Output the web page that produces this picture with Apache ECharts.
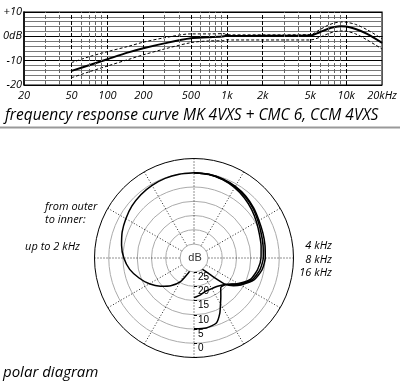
<!DOCTYPE html>
<html>
<head>
<meta charset="utf-8">
<script src="https://cdn.jsdelivr.net/npm/echarts@6/dist/echarts.min.js"></script>
<style>html,body{margin:0;padding:0;background:#fff}#c{width:400px;height:383px}</style>
</head>
<body>
<div id="c"></div>
<script>
// ---- frequency response data ----
const FREQ  = [50, 70, 100, 150, 200, 300, 500, 700, 950, 1000, 1100, 2000, 5000, 6000, 7000, 8000, 9000, 10000, 12000, 15000, 20000];
const MID   = [-14.2, -11.9, -9.4, -6.6, -4.9, -2.9, -0.8, -0.4, 0.0, 0.5, 0.1, 0.2, 0.3, 1.7, 3.0, 3.8, 4.1, 4.0, 3.0, 1.0, -2.7];
const UPPER = [-10.8, -8.4, -6.3, -4.1, -2.4, -0.6, 1.0, 1.0, 1.1, 0.6, 0.6, 0.6, 0.7, 2.7, 4.5, 5.5, 5.9, 5.8, 4.9, 2.7, -1.0];
const LOWER = [-17.0, -14.6, -12.2, -9.5, -7.6, -5.2, -2.6, -1.9, -1.8, -1.4, -1.5, -1.5, -1.5, -0.4, 1.0, 1.9, 2.2, 2.1, 1.0, -1.5, -5.2];
const X_LABEL_FREQ = [20, 50, 100, 200, 500, 1000, 2000, 5000, 10000, 20000];
const X_LABELS     = ['20', '50', '100', '200', '500', '1k', '2k', '5k', '10k', '20kHz'];
const MAJOR_GRID = [50, 100, 200, 500, 1000, 2000, 5000, 10000];
const MINOR_GRID = [30, 40, 60, 70, 80, 90, 300, 400, 600, 700, 800, 900, 3000, 4000, 6000, 7000, 8000, 9000];
const Y_TICKS = [10, 0, -10, -20];
const Y_LABELS = ['+10', '0dB', '-10', '-20'];

// ---- polar data (angle in degrees, 0 = front/top; level in dB) ----
const LOW_ANGLE = [0, -10, -20, -30, -40, -50, -60, -70, -80, -90, -100, -110, -120, -130, -140, -150, -160, -170, -180];
const LOW_DB    = [0, -0.05, -0.2, -0.5, -0.9, -1.5, -2.3, -3.1, -4.1, -5.3, -7.0, -9.4, -11.8, -14.5, -17.2, -20.2, -24.5, -26.8, -27.5];
const K4_ANGLE  = [0, 10, 20, 30, 40, 50, 60, 70, 80, 90, 100, 110, 120, 125, 130, 135, 140, 150, 165, 180];
const K4_DB     = [0, -0.1, -0.4, -0.9, -1.6, -2.6, -3.6, -4.2, -4.6, -4.9, -5.7, -7.5, -11.0, -13.0, -15.5, -21.0, -24.0, -26.0, -27.0, -27.5];
const K8_ANGLE  = [0, 10, 20, 30, 40, 50, 60, 70, 80, 90, 100, 110, 120, 130, 140, 150, 160, 170, 180];
const K8_DB     = [0, -0.1, -0.5, -1.1, -1.9, -2.9, -4.0, -4.8, -5.3, -5.6, -6.4, -8.0, -11.5, -15.5, -17.0, -17.5, -17.6, -16.8, -16.0];
const K16_ANGLE = [0, 10, 20, 30, 40, 50, 60, 70, 80, 90, 100, 110, 120, 130, 138, 145, 150, 155, 161, 170, 180];
const K16_DB    = [0, -0.2, -0.6, -1.4, -2.4, -3.5, -4.6, -5.5, -6.0, -6.4, -7.2, -8.6, -12.0, -15.4, -15.9, -13.5, -11.3, -8.5, -5.8, -5.0, -5.1];

const FONT = 'Open Sans';
const lg = Math.log10;
const PCX = 194, PCY = 258;

const chart = echarts.init(document.getElementById('c'), null, {renderer: 'canvas'});
const pairs = (xs, ys) => xs.map((f, i) => [lg(f), ys[i]]);
const polarPairs = (angs, dbs) => angs.map((a, i) => [dbs[i], a]);

const gridLines = MINOR_GRID.map(f => ({xAxis: lg(f), lineStyle: {color: '#666', width: 1}}))
  .concat(MAJOR_GRID.map(f => ({xAxis: lg(f), lineStyle: {color: '#000', width: 1}})));

const polarSeries = (name, angs, dbs) => ({
  name, type: 'line', coordinateSystem: 'polar', polarIndex: 0,
  data: polarPairs(angs, dbs), smooth: 0.2, showSymbol: false, clip: false,
  lineStyle: {color: '#000', width: 1.5, join: 'round'}, z: 5
});

chart.setOption({
  animation: false,
  grid: {left: 19, right: 14, top: 12, height: 73, show: true, borderColor: '#000', borderWidth: 1.2},
  xAxis: {
    type: 'value', min: lg(20), max: lg(20000),
    splitLine: {show: false}, axisTick: {show: false},
    axisLine: {lineStyle: {color: '#000', width: 1.2}},
    axisLabel: {
      customValues: X_LABEL_FREQ.map(lg),
      margin: 5, fontFamily: FONT, fontStyle: 'italic', fontSize: 11, color: '#000',
      formatter: v => { let best = 0; X_LABEL_FREQ.forEach((f, i) => { if (Math.abs(lg(f) - v) < Math.abs(lg(X_LABEL_FREQ[best]) - v)) best = i; }); return X_LABELS[best]; }
    }
  },
  yAxis: {
    type: 'value', min: -20, max: 10, interval: 10,
    axisLine: {show: true, lineStyle: {color: '#000', width: 1.5}},
    axisTick: {show: false},
    splitLine: {show: true, lineStyle: {color: '#000', width: 1.2}},
    minorTick: {show: false, splitNumber: 5},
    minorSplitLine: {show: true, lineStyle: {color: '#777', width: 1}},
    axisLabel: {
      margin: 2, fontFamily: FONT, fontStyle: 'italic', fontSize: 11, color: '#000',
      formatter: v => Y_LABELS[Y_TICKS.indexOf(v)] ?? ''
    }
  },
  polar: {center: [PCX, PCY], radius: [14, 99.5]},
  angleAxis: {
    type: 'value', min: -180, max: 180, interval: 30, startAngle: 270, clockwise: true,
    axisLine: {show: false},
    axisTick: {show: false}, axisLabel: {show: false},
    splitLine: {show: true, lineStyle: {color: '#222', width: 1, type: [1, 2]}}
  },
  radiusAxis: {
    type: 'value', min: -25, max: 5, interval: 5,
    axisLine: {show: false},
    axisTick: {show: true, inside: true, length: 3, lineStyle: {color: '#000'}},
    splitLine: {show: true, lineStyle: {color: ['#aaa', '#aaa', '#aaa', '#aaa', '#aaa', '#aaa', '#000'], width: 1}},
    axisLabel: {
      fontFamily: 'Liberation Sans', fontSize: 10, color: '#000', margin: 4,
      align: 'left', verticalAlign: 'top',
      formatter: v => (v > 0 ? '' : String(Math.abs(v)))
    }
  },
  series: [
    {name: 'grid', type: 'line', data: [], z: 1, silent: true,
     markLine: {silent: true, symbol: 'none', label: {show: false}, animation: false, data: gridLines}},
    {name: 'upper', type: 'line', data: pairs(FREQ, UPPER), smooth: 0.3, showSymbol: false,
     lineStyle: {color: '#000', width: 1, type: [3, 2]}, z: 3},
    {name: 'lower', type: 'line', data: pairs(FREQ, LOWER), smooth: 0.3, showSymbol: false,
     lineStyle: {color: '#000', width: 1, type: [3, 2]}, z: 3},
    {name: 'response', type: 'line', data: pairs(FREQ, MID), smooth: 0.3, showSymbol: false,
     lineStyle: {color: '#000', width: 2}, z: 4},
    polarSeries('up to 2 kHz', LOW_ANGLE, LOW_DB),
    polarSeries('4 kHz', K4_ANGLE, K4_DB),
    polarSeries('8 kHz', K8_ANGLE, K8_DB),
    polarSeries('16 kHz', K16_ANGLE, K16_DB)
  ],
  graphic: [
    {type: 'text', left: 5, top: 108, style: {text: 'frequency response curve MK 4VXS + CMC 6, CCM 4VXS', font: 'italic 15.5px "Open Sans"', fill: '#000'}},
    {type: 'line', shape: {x1: 0, y1: 127.5, x2: 400, y2: 127.5}, style: {stroke: '#999', lineWidth: 2}},
    {type: 'text', x: 45, y: 207, style: {text: 'from outer', font: 'italic 11px "Open Sans"', fill: '#000', verticalAlign: 'middle'}},
    {type: 'text', x: 45, y: 220, style: {text: 'to inner:', font: 'italic 11px "Open Sans"', fill: '#000', verticalAlign: 'middle'}},
    {type: 'text', x: 80, y: 247, style: {text: 'up to 2 kHz', font: 'italic 11px "Open Sans"', fill: '#000', align: 'right', verticalAlign: 'middle'}},
    {type: 'text', x: 332, y: 246, style: {text: '4 kHz', font: 'italic 11px "Open Sans"', fill: '#000', align: 'right', verticalAlign: 'middle'}},
    {type: 'text', x: 332, y: 260, style: {text: '8 kHz', font: 'italic 11px "Open Sans"', fill: '#000', align: 'right', verticalAlign: 'middle'}},
    {type: 'text', x: 332, y: 273, style: {text: '16 kHz', font: 'italic 11px "Open Sans"', fill: '#000', align: 'right', verticalAlign: 'middle'}},
    {type: 'text', x: PCX + 1, y: PCY, style: {text: 'dB', font: '11px "Liberation Sans"', fill: '#333', align: 'center', verticalAlign: 'middle'}},
    {type: 'text', x: 3, y: 373, style: {text: 'polar diagram', font: 'italic 15px "Open Sans"', fill: '#000', verticalAlign: 'middle'}}
  ]
});
</script>
</body>
</html>
